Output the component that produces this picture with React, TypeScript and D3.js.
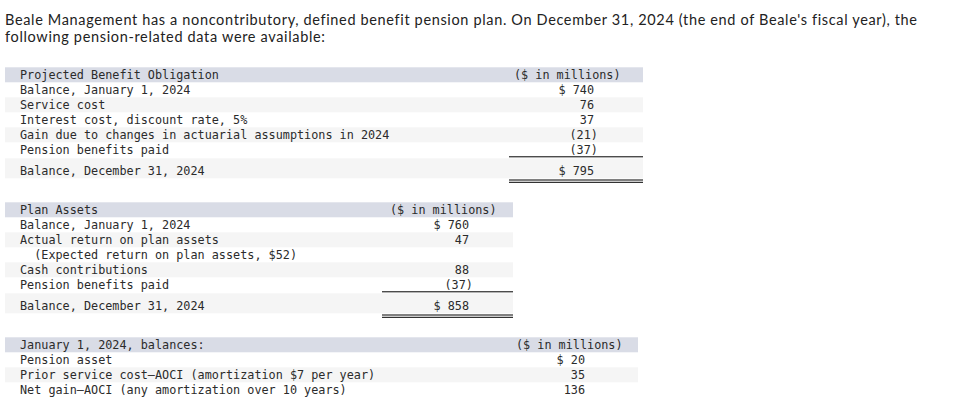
import React from "react";
import * as d3 from "d3";

const introLines = [
  "Beale Management has a noncontributory, defined benefit pension plan. On December 31, 2024 (the end of Beale's fiscal year), the",
  "following pension-related data were available:",
];

const unitLabel = "($ in millions)";

const pboTitle = "Projected Benefit Obligation";
const pboLabels = [
  "Balance, January 1, 2024",
  "Service cost",
  "Interest cost, discount rate, 5%",
  "Gain due to changes in actuarial assumptions in 2024",
  "Pension benefits paid",
];
const pboValues: (number | null)[] = [740, 76, 37, -21, -37];
const pboTotalLabel = "Balance, December 31, 2024";
const pboTotal = 795;

const assetTitle = "Plan Assets";
const assetLabels = [
  "Balance, January 1, 2024",
  "Actual return on plan assets",
  "(Expected return on plan assets, $52)",
  "Cash contributions",
  "Pension benefits paid",
];
const assetIndent = [0, 0, 2, 0, 0];
const assetValues: (number | null)[] = [760, 47, null, 88, -37];
const assetTotalLabel = "Balance, December 31, 2024";
const assetTotal = 858;

const balTitle = "January 1, 2024, balances:";
const balLabels = [
  "Pension asset",
  "Prior service cost\u2014AOCI (amortization $7 per year)",
  "Net gain\u2014AOCI (any amortization over 10 years)",
];
const balValues: (number | null)[] = [20, 35, 136];

const MONO = "'DejaVu Sans Mono', 'Liberation Mono', monospace";
const MONO_SIZE = 11.8;
const CH = MONO_SIZE * 0.602;
const TXT = "#2b2b2b";
const HEAD_BG = "#d9dce6";
const STRIPE = "#f5f5f5";

function fmt(v: number | null, first: boolean): string {
  if (v == null) return "";
  if (v < 0) return `(${Math.abs(v)})`;
  return first ? `$ ${v}` : `${v}`;
}

type TableProps = {
  top: number;
  right: number;
  headerX: number;
  valueRight: number;
  lineX0: number;
  title: string;
  labels: string[];
  values: (number | null)[];
  indent?: number[];
  totalLabel?: string;
  total?: number;
};

function Table(p: TableProps) {
  const left = 5;
  const labelX = 20;
  const n = p.labels.length;
  const rowY = d3.scaleLinear().domain([0, 1]).range([p.top + 15, p.top + 30]);
  const rowH = 15;
  const hasTotal = p.totalLabel != null;
  const totalTop = p.top + 91;
  return (
    <g>
      <rect x={left} y={p.top} width={p.right - left} height={15} fill={HEAD_BG} />
      <text x={labelX} y={p.top + 11.8} fontFamily={MONO} fontSize={MONO_SIZE} fill={TXT}>
        {p.title}
      </text>
      <text x={p.headerX} y={p.top + 11.8} fontFamily={MONO} fontSize={MONO_SIZE} fill={TXT}>
        {unitLabel}
      </text>
      {p.labels.map((lab, i) => {
        const y0 = rowY(i);
        const v = p.values[i];
        const s = fmt(v, i === 0);
        const vx = v != null && v < 0 ? p.valueRight + CH * 0.55 : p.valueRight;
        return (
          <g key={i}>
            {i % 2 === 1 && (
              <rect x={left} y={y0} width={p.right - left} height={i === n - 1 ? rowH + 1 : rowH} fill={STRIPE} />
            )}
            <text
              x={labelX + (p.indent ? p.indent[i] : 0) * CH}
              y={y0 + 11.4}
              fontFamily={MONO}
              fontSize={MONO_SIZE}
              fill={TXT}
            >
              {lab}
            </text>
            {s && (
              <text x={vx} y={y0 + 11.4} textAnchor="end" fontFamily={MONO} fontSize={MONO_SIZE} fill={TXT}>
                {s}
              </text>
            )}
          </g>
        );
      })}
      {hasTotal && (
        <g>
          <rect x={left} y={totalTop} width={p.right - left} height={20} fill={STRIPE} />
          <line x1={p.lineX0} x2={p.right} y1={p.top + 89.5} y2={p.top + 89.5} stroke="#000" strokeWidth={1} />
          <text x={labelX} y={p.top + 107.6} fontFamily={MONO} fontSize={MONO_SIZE} fill={TXT}>
            {p.totalLabel}
          </text>
          <text x={p.valueRight} y={p.top + 107.6} textAnchor="end" fontFamily={MONO} fontSize={MONO_SIZE} fill={TXT}>
            {fmt(p.total ?? null, true)}
          </text>
          <line x1={p.lineX0} x2={p.right} y1={p.top + 112.7} y2={p.top + 112.7} stroke="#000" strokeWidth={1} />
          <line x1={p.lineX0} x2={p.right} y1={p.top + 115} y2={p.top + 115} stroke="#000" strokeWidth={1} />
        </g>
      )}
    </g>
  );
}

export default function App() {
  return (
    <div style={{ position: "absolute", left: 0, top: 0 }}>
      <svg width={958} height={416} style={{ display: "block", background: "#fff" }}>
        <text
          x={5}
          y={24.5}
          fontFamily="Lato, 'Open Sans', sans-serif"
          fontSize={14.5}
          fill="#222"
          textLength={912}
          lengthAdjust="spacing"
          style={{ fontVariantLigatures: "none" }}
        >
          {introLines[0]}
        </text>
        <text
          x={5}
          y={41.5}
          fontFamily="Lato, 'Open Sans', sans-serif"
          fontSize={14.5}
          fill="#222"
          textLength={320}
          lengthAdjust="spacing"
          style={{ fontVariantLigatures: "none" }}
        >
          {introLines[1]}
        </text>
        <Table
          top={67.3}
          right={643}
          headerX={514}
          valueRight={594}
          lineX0={509}
          title={pboTitle}
          labels={pboLabels}
          values={pboValues}
          totalLabel={pboTotalLabel}
          total={pboTotal}
        />
        <Table
          top={202.3}
          right={513}
          headerX={390}
          valueRight={469}
          lineX0={382}
          title={assetTitle}
          labels={assetLabels}
          values={assetValues}
          indent={assetIndent}
          totalLabel={assetTotalLabel}
          total={assetTotal}
        />
        <Table
          top={337.3}
          right={638}
          headerX={516}
          valueRight={585}
          lineX0={0}
          title={balTitle}
          labels={balLabels}
          values={balValues}
        />
      </svg>
    </div>
  );
}
